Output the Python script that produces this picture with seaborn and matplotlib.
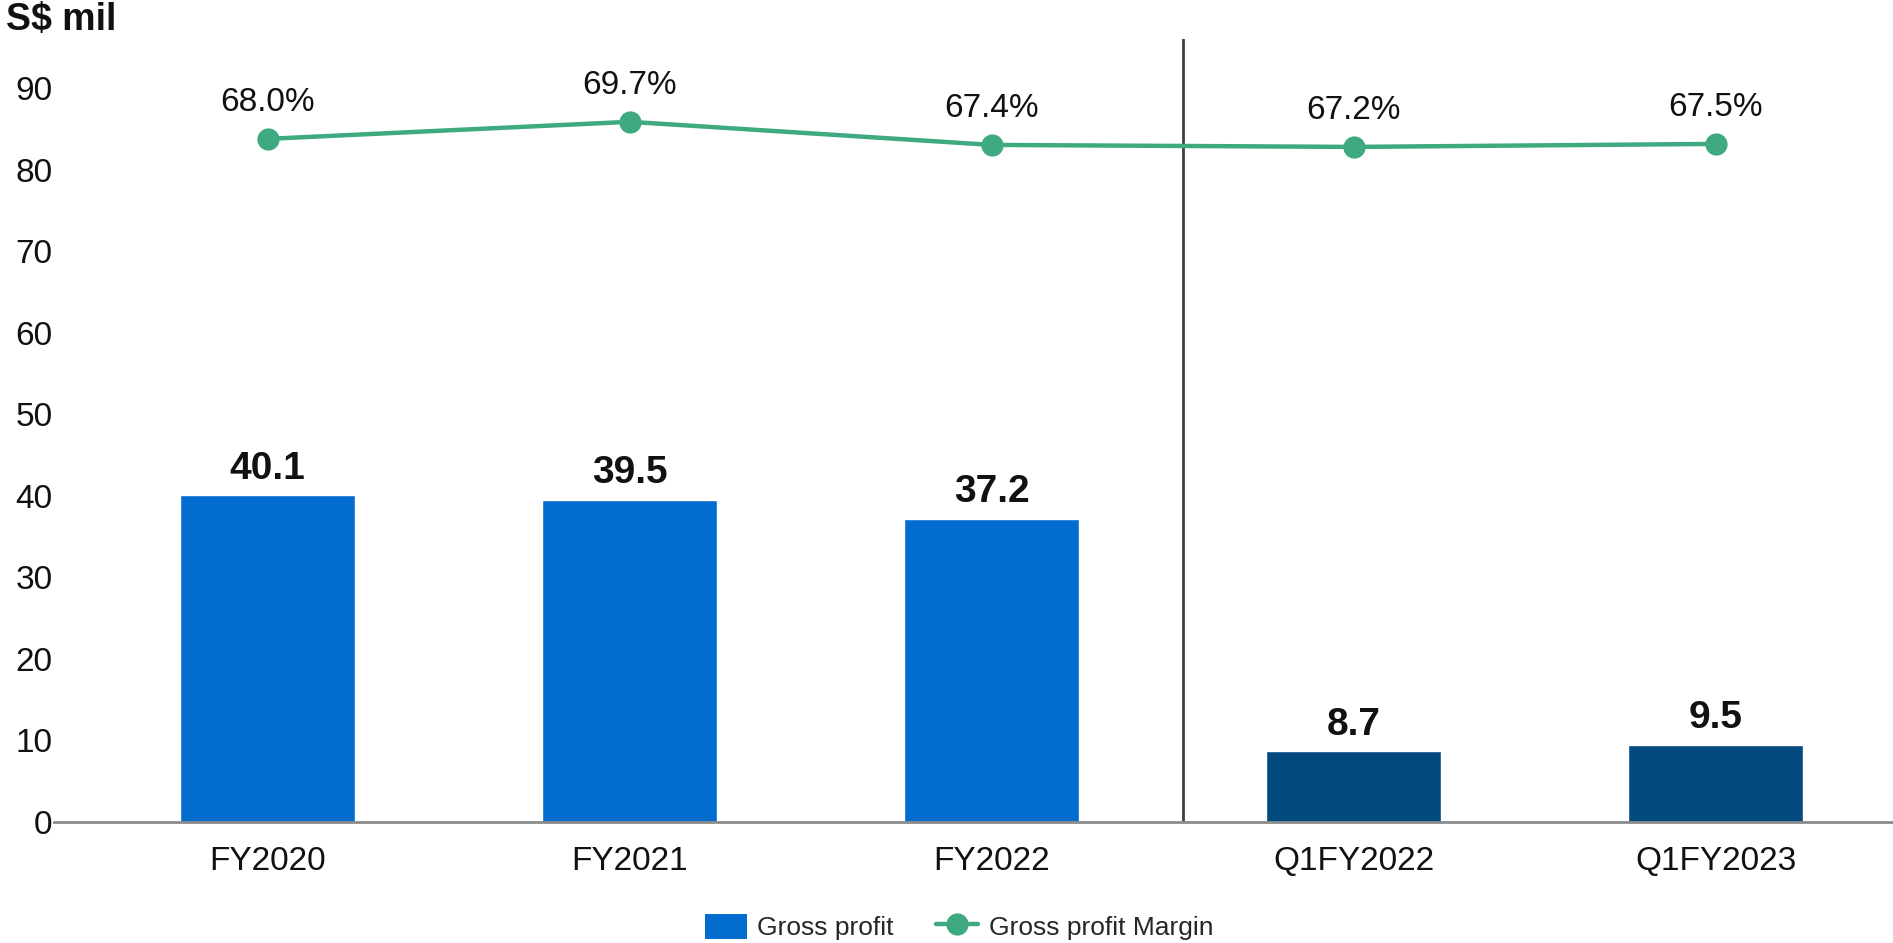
import numpy as np
import pandas as pd
import matplotlib
matplotlib.use("Agg")
import matplotlib.pyplot as plt
from matplotlib.patches import Patch
from matplotlib.lines import Line2D
import seaborn as sns

# Gross profit (S$ mil) and gross profit margin (%) by period
periods = ["FY2020", "FY2021", "FY2022", "Q1FY2022", "Q1FY2023"]
gross_profit = [40.1, 39.5, 37.2, 8.7, 9.5]
gross_margin = [68.0, 69.7, 67.4, 67.2, 67.5]
y_ticks = [0, 10, 20, 30, 40, 50, 60, 70, 80, 90]

FY_BLUE = "#036CCF"
Q_BLUE = "#034A7E"
GREEN = "#3FAA80"
bar_colors = [FY_BLUE, FY_BLUE, FY_BLUE, Q_BLUE, Q_BLUE]

sns.set_theme(style="white")
plt.rcParams["font.family"] = ["Liberation Sans", "DejaVu Sans"]

W, H = 1893, 943
fig = plt.figure(figsize=(W / 100, H / 100), dpi=100)
left_px, base_px, top_px = 54, 822, 39
ax = fig.add_axes([left_px / W, 1 - base_px / H, 1 - left_px / W, (base_px - top_px) / H])

df = pd.DataFrame({"period": periods, "gp": gross_profit, "margin": gross_margin})

sns.barplot(data=df, x="period", y="gp", hue="period", palette=bar_colors,
            legend=False, width=0.483, saturation=1, ax=ax)

y_top = 96
ax.set_xlim(-0.59, 4.49)
ax.set_ylim(0, y_top)
ax.set_yticks(y_ticks)
ax.set_yticklabels([str(v) for v in y_ticks])
ax.set_xlabel("")
ax.set_ylabel("")
ax.tick_params(axis="y", length=0, pad=1, labelsize=24, colors="#111111")
ax.tick_params(axis="x", length=0, pad=17, labelsize=24, colors="#111111")

for side in ["top", "right", "left"]:
    ax.spines[side].set_visible(False)
ax.spines["bottom"].set_color("#8C8C8C")
ax.spines["bottom"].set_linewidth(2)

# value labels on bars
for i, v in enumerate(gross_profit):
    ax.annotate(f"{v:.1f}", (i, v), xytext=(0, 6), textcoords="offset points",
                ha="center", va="bottom", fontsize=28, fontweight="bold", color="#111111")

# divider between annual and quarterly figures
ax.axvline(2.53, ymin=0, ymax=1, color="#404040", linewidth=2)

# margin line on a secondary scale
ax2 = ax.twinx()
ax2.set_ylim(0, y_top * 0.8119)
x_pos = np.arange(len(periods))
sns.lineplot(x=x_pos, y=gross_margin, ax=ax2, color=GREEN, linewidth=3.2,
             marker="o", markersize=16, markeredgewidth=0, legend=False)
ax2.set_xlim(-0.59, 4.49)
ax2.axis("off")
for i, m in enumerate(gross_margin):
    ax2.annotate(f"{m:.1f}%", (i, m), xytext=(0, 15), textcoords="offset points",
                 ha="center", va="bottom", fontsize=24, color="#111111")

fig.text(6 / W, 1 - 20 / H, "S$ mil", fontsize=27, fontweight="bold",
         ha="left", va="center", color="#111111")

handles = [
    Patch(facecolor=FY_BLUE, edgecolor="none", label="Gross profit"),
    Line2D([0], [0], color=GREEN, linewidth=3.2, marker="o", markersize=16,
           markeredgewidth=0, label="Gross profit Margin"),
]
fig.legend(handles=handles, loc="center", bbox_to_anchor=(0.5066, 1 - 927 / H),
           ncol=2, frameon=False, fontsize=19, handlelength=1.6, handleheight=1.1,
           columnspacing=1.6, handletextpad=0.4)

fig.savefig("out.png", dpi=100)
